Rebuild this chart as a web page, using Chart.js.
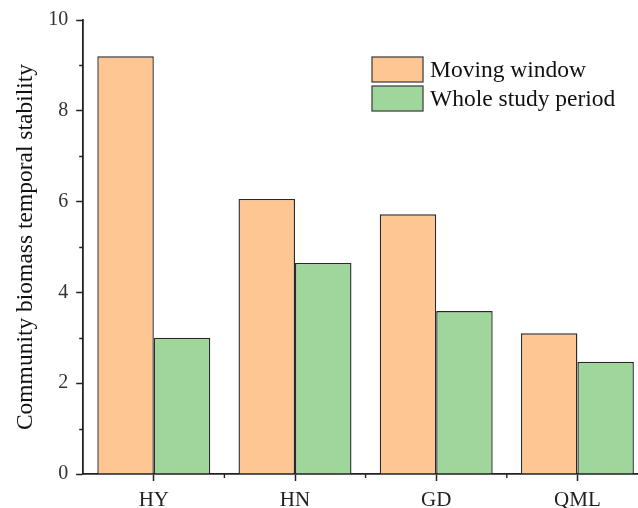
<!DOCTYPE html>
<html>
<head>
<meta charset="utf-8">
<script src="https://cdn.jsdelivr.net/npm/chart.js@4.4.0/dist/chart.umd.min.js"></script>
<style>
  html, body { margin: 0; padding: 0; background: #fff; overflow: hidden; }
  #wrap { width: 648px; height: 512px; }
</style>
</head>
<body>
<div id="wrap"><canvas id="bar_chart"></canvas></div>
<script>
// chart values
const sites = ['HY', 'HN', 'GD', 'QML'];
const movingWindow = [9.2, 6.06, 5.72, 3.1];
const wholePeriod = [3.0, 4.65, 3.59, 2.47];
const seriesNames = ['Moving window', 'Whole study period'];
const yTicks = [0, 2, 4, 6, 8, 10];

const serif = '"Liberation Serif", "Times New Roman", serif';

// minor ticks: odd values on y, category boundaries on x
const minorTicks = {
  id: 'minorTicks',
  afterDraw(chart) {
    const ctx = chart.ctx;
    const x = chart.scales.x, y = chart.scales.y;
    ctx.save();
    ctx.strokeStyle = '#222';
    ctx.lineWidth = 1.4;
    ctx.beginPath();
    for (let v = 1; v < 10; v += 2) {
      const py = Math.round(y.getPixelForValue(v)) + 0.5;
      ctx.moveTo(x.left, py);
      ctx.lineTo(x.left - 4, py);
    }
    for (let i = 0; i < sites.length - 1; i++) {
      const px = (x.getPixelForValue(i) + x.getPixelForValue(i + 1)) / 2;
      ctx.moveTo(px, y.bottom);
      ctx.lineTo(px, y.bottom + 4);
    }
    ctx.stroke();
    ctx.restore();
  }
};

// legend drawn inside the plot area, top right
const innerLegend = {
  id: 'innerLegend',
  afterDraw(chart) {
    const ctx = chart.ctx;
    const left = 372, top = 57, boxW = 51, boxH = 25, gap = 4;
    ctx.save();
    ctx.font = '23.5px ' + serif;
    ctx.textBaseline = 'middle';
    chart.data.datasets.forEach(function(ds, i) {
      const by = top + i * (boxH + gap);
      ctx.fillStyle = ds.backgroundColor;
      ctx.fillRect(left, by, boxW, boxH);
      ctx.strokeStyle = '#444';
      ctx.lineWidth = 1.3;
      ctx.strokeRect(left, by, boxW, boxH);
      ctx.fillStyle = '#111';
      ctx.fillText(ds.label, left + boxW + 7, by + boxH / 2 + 1);
    });
    ctx.restore();
  }
};

new Chart(document.getElementById('bar_chart'), {
  type: 'bar',
  data: {
    labels: sites,
    datasets: [
      {
        label: seriesNames[0],
        data: movingWindow,
        backgroundColor: '#FDC693',
        borderColor: '#2a2a2a',
        borderWidth: 1.4,
        borderSkipped: 'bottom'
      },
      {
        label: seriesNames[1],
        data: wholePeriod,
        backgroundColor: '#9ED69B',
        borderColor: '#2a2a2a',
        borderWidth: 1.4,
        borderSkipped: 'bottom'
      }
    ]
  },
  options: {
    responsive: true,
    maintainAspectRatio: false,
    animation: false,
    layout: { padding: { top: 14, right: 0, left: 12, bottom: -8 } },
    categoryPercentage: 0.8,
    barPercentage: 1.0,
    plugins: {
      legend: { display: false },
      tooltip: { enabled: false }
    },
    scales: {
      x: {
        offset: true,
        grid: {
          display: true,
          drawOnChartArea: false,
          offset: false,
          tickLength: 7,
          tickColor: '#222',
          tickWidth: 1.5
        },
        border: { display: true, color: '#222', width: 1.8 },
        ticks: {
          color: '#222',
          padding: 9,
          font: { family: serif, size: 21, lineHeight: 1 }
        }
      },
      y: {
        min: 0,
        max: 10,
        afterBuildTicks: function(scale) {
          scale.ticks = yTicks.map(function(v) { return { value: v }; });
        },
        grid: {
          display: true,
          drawOnChartArea: false,
          tickLength: 7,
          tickColor: '#222',
          tickWidth: 1.5
        },
        border: { display: true, color: '#222', width: 1.8 },
        ticks: {
          color: '#333',
          padding: 8,
          font: { family: serif, size: 20 }
        },
        title: {
          display: true,
          text: 'Community biomass temporal stability',
          color: '#111',
          padding: { top: 0, bottom: 0 },
          font: { family: serif, size: 23.5, lineHeight: 1.2 }
        }
      }
    }
  },
  plugins: [minorTicks, innerLegend]
});
</script>
</body>
</html>
